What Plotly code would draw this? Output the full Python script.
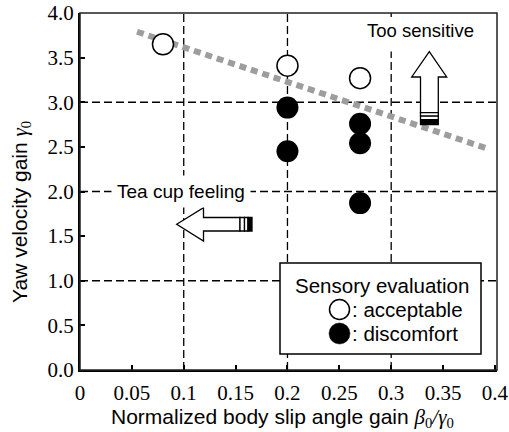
import plotly.graph_objects as go

# ---- data ----
acc_x = [0.08, 0.20, 0.27]
acc_y = [3.65, 3.41, 3.27]
dis_x = [0.20, 0.20, 0.27, 0.27, 0.27]
dis_y = [2.94, 2.45, 2.76, 2.54, 1.87]
trend_x = [0.055, 0.393]
trend_y = [3.79, 2.48]
x_ticks = [0, 0.05, 0.1, 0.15, 0.2, 0.25, 0.3, 0.35, 0.4]
x_labels = ["0", "0.05", "0.1", "0.15", "0.2", "0.25", "0.3", "0.35", "0.4"]
y_ticks = [0, 0.5, 1, 1.5, 2, 2.5, 3, 3.5, 4]
y_labels = ["0.0", "0.5", "1.0", "1.5", "2.0", "2.5", "3.0", "3.5", "4.0"]
grid_x = [0.1, 0.2]
grid_y = [1, 2, 3]

# ---- layout geometry ----
W, H = 509, 432
ML, MR, MT, MB = 80, 12, 13, 62
XR = [0, 0.402]
YR = [0, 4]
pw, ph = W - ML - MR, H - MT - MB


def px(x):
    return XR[0] + (x - ML) / pw * (XR[1] - XR[0])


def py(y):
    return YR[0] + (H - MB - y) / ph * (YR[1] - YR[0])


def pfx(x):
    return (x - ML) / pw


def pfy(y):
    return (H - MB - y) / ph


SERIF = "Liberation Serif"
SANS = "Liberation Sans"

fig = go.Figure()

fig.add_trace(go.Scatter(x=trend_x, y=trend_y, mode="lines",
                         line=dict(color="#9d9d9d", width=6, dash="7px,5px"),
                         hoverinfo="skip"))
fig.add_trace(go.Scatter(x=acc_x, y=acc_y, mode="markers",
                         marker=dict(size=21, color="white", line=dict(color="black", width=1.5))))
fig.add_trace(go.Scatter(x=dis_x, y=dis_y, mode="markers",
                         marker=dict(size=22, color="black", line=dict(color="black", width=0))))

shapes = []
dash_style = dict(color="black", width=1.3, dash="8px,4px")
for gx in grid_x:
    shapes.append(dict(type="line", xref="x", yref="y", x0=gx, x1=gx, y0=0, y1=4,
                       line=dash_style, layer="below"))
# x=0.3 gridline (interrupted near the top)
shapes.append(dict(type="line", xref="x", yref="y", x0=0.3, x1=0.3, y0=0, y1=3.57,
                   line=dash_style, layer="below"))
shapes.append(dict(type="line", xref="x", yref="y", x0=0.3, x1=0.3, y0=3.955, y1=4,
                   line=dict(color="black", width=1.3), layer="below"))
for gy in grid_y:
    shapes.append(dict(type="line", xref="x", yref="y", x0=0, x1=XR[1], y0=gy, y1=gy,
                       line=dash_style, layer="below"))

# frame (top/right thinner)
shapes.append(dict(type="rect", xref="paper", yref="paper", x0=0, x1=1, y0=0, y1=1,
                   line=dict(color="#222", width=1.5), layer="above"))


def path_from(points):
    s = "M " + " L ".join(f"{px(a):.5f},{py(b):.5f}" for a, b in points) + " Z"
    return s


def rect_px(x0, y0, x1, y1, fill):
    return dict(type="rect", xref="x", yref="y", x0=px(x0), x1=px(x1), y0=py(y1), y1=py(y0),
                line=dict(color="black", width=1.3), fillcolor=fill, layer="above")


# left arrow ("Tea cup feeling")
shapes.append(dict(type="path", xref="x", yref="y", layer="above",
                   path=path_from([(176.7, 224.3), (203.5, 207.7), (203.5, 217.5), (240, 217.5),
                                   (240, 231), (203.5, 231), (203.5, 241)]),
                   line=dict(color="black", width=1.3), fillcolor="white"))
shapes.append(rect_px(240, 217.5, 244.5, 231, "white"))
shapes.append(rect_px(244.5, 217.5, 248, 231, "white"))
shapes.append(rect_px(248, 217.5, 252, 231, "black"))

# up arrow ("Too sensitive")
shapes.append(dict(type="path", xref="x", yref="y", layer="above",
                   path=path_from([(429.3, 51.7), (446.7, 77), (438.3, 77), (438.3, 112.7),
                                   (420.5, 112.7), (420.5, 77), (411.7, 77)]),
                   line=dict(color="black", width=1.3), fillcolor="white"))
shapes.append(rect_px(420.5, 112.7, 438.3, 116.2, "white"))
shapes.append(rect_px(420.5, 116.2, 438.3, 119.7, "white"))
shapes.append(rect_px(420.5, 120.5, 438.3, 124.5, "black"))

# legend box
shapes.append(dict(type="rect", xref="x", yref="y", x0=px(280), x1=px(481), y0=py(354), y1=py(263),
                   line=dict(color="black", width=1.5), fillcolor="white", layer="above"))
shapes.append(dict(type="circle", xref="x", yref="y", xsizemode="pixel", ysizemode="pixel",
                   xanchor=px(339.5), yanchor=py(309.5), x0=-10, x1=10, y0=-10, y1=10,
                   line=dict(color="black", width=1.5), fillcolor="white", layer="above"))
shapes.append(dict(type="circle", xref="x", yref="y", xsizemode="pixel", ysizemode="pixel",
                   xanchor=px(339.5), yanchor=py(333.5), x0=-10.5, x1=10.5, y0=-10.5, y1=10.5,
                   line=dict(color="black", width=0.5), fillcolor="black", layer="above"))

g = f'<span style="font-family:{SERIF}"><i>γ</i><sub>0</sub></span>'
b = f'<span style="font-family:{SERIF}"><i>β</i><sub>0</sub><i>/</i><i>γ</i><sub>0</sub></span>'

annotations = [
    dict(x=px(420), y=py(30), xref="x", yref="y", text="Too sensitive", showarrow=False,
         xanchor="center", yanchor="middle",
         font=dict(family=SANS, size=18.5, color="black")),
    dict(x=px(181), y=py(191), xref="x", yref="y", text="Tea cup feeling", showarrow=False,
         xanchor="center", yanchor="middle",
         font=dict(family=SANS, size=19, color="black"), bgcolor="white", borderpad=5),
    dict(x=px(382), y=py(285), xref="x", yref="y", text="Sensory evaluation", showarrow=False,
         xanchor="center", yanchor="middle",
         font=dict(family=SANS, size=20.5, color="black")),
    dict(x=px(350), y=py(309), xref="x", yref="y", text=": acceptable", showarrow=False,
         xanchor="left", yanchor="middle", font=dict(family=SANS, size=20.5, color="black")),
    dict(x=px(350), y=py(333), xref="x", yref="y", text=": discomfort", showarrow=False,
         xanchor="left", yanchor="middle", font=dict(family=SANS, size=20.5, color="black")),
    # axis titles
    dict(x=pfx(282), y=pfy(418), xref="paper", yref="paper", text="Normalized body slip angle gain " + b,
         showarrow=False, xanchor="center", yanchor="middle",
         font=dict(family=SANS, size=21, color="black")),
    dict(x=pfx(21), y=pfy(212), xref="paper", yref="paper", text="Yaw velocity gain " + g,
         showarrow=False, textangle=-90, xanchor="center", yanchor="middle",
         font=dict(family=SANS, size=21, color="black")),
]

fig.update_layout(
    width=W, height=H,
    margin=dict(l=ML, r=MR, t=MT, b=MB, pad=0, autoexpand=False),
    paper_bgcolor="white", plot_bgcolor="white",
    showlegend=False,
    shapes=shapes,
    annotations=annotations,
    xaxis=dict(range=XR, tickvals=x_ticks, ticktext=x_labels, ticks="inside", ticklen=5,
               tickwidth=1.5, tickcolor="black", showline=True, linecolor="black", linewidth=2,
               showgrid=False, zeroline=False, automargin=False, ticklabelstandoff=3,
               tickfont=dict(family=SERIF, size=21, color="black")),
    yaxis=dict(range=YR, tickvals=y_ticks, ticktext=y_labels, ticks="inside", ticklen=5,
               tickwidth=1.5, tickcolor="black", showline=True, linecolor="black", linewidth=2,
               showgrid=False, zeroline=False, automargin=False,
               tickfont=dict(family=SERIF, size=21, color="black")),
)

fig.write_html("out.html")
